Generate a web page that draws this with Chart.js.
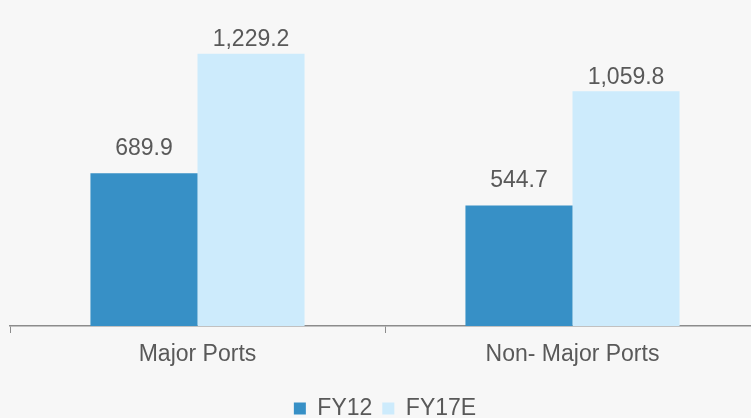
<!DOCTYPE html>
<html>
<head>
<meta charset="utf-8">
<script src="https://cdn.jsdelivr.net/npm/chart.js@4/dist/chart.umd.min.js"></script>
<style>
  html, body { margin: 0; padding: 0; background: #F7F7F7; overflow: hidden; width: 751px; height: 418px; }
  #wrap { width: 770px; height: 430px; position: relative; }
</style>
</head>
<body>
<div id="wrap"><canvas id="c"></canvas></div>
<script>
const categories = ['Major Ports', 'Non- Major Ports'];
const seriesNames = ['FY12', 'FY17E'];
const fy12 = [689.9, 544.7];
const fy17e = [1229.2, 1059.8];

const textColor = '#595959';
const fontFamily = "'Liberation Sans', Arial, sans-serif";

const valueLabels = {
  id: 'valueLabels',
  afterDatasetsDraw(chart) {
    const ctx = chart.ctx;
    const offsets = [25, 14];
    ctx.save();
    ctx.font = '23px ' + fontFamily;
    ctx.fillStyle = textColor;
    ctx.textAlign = 'center';
    ctx.textBaseline = 'middle';
    chart.data.datasets.forEach((ds, i) => {
      const meta = chart.getDatasetMeta(i);
      meta.data.forEach((bar, j) => {
        const v = ds.data[j];
        const s = v.toLocaleString('en-US', { minimumFractionDigits: 1, maximumFractionDigits: 1 });
        ctx.fillText(s, bar.x, bar.y - offsets[i]);
      });
    });
    ctx.restore();
  }
};

new Chart(document.getElementById('c'), {
  type: 'bar',
  data: {
    labels: categories,
    datasets: [
      { label: seriesNames[0], data: fy12, backgroundColor: '#3790C6', borderWidth: 0 },
      { label: seriesNames[1], data: fy17e, backgroundColor: '#CDEBFC', borderWidth: 0 }
    ]
  },
  options: {
    responsive: true,
    maintainAspectRatio: false,
    animation: false,
    datasets: { bar: { categoryPercentage: 0.571, barPercentage: 1.0 } },
    layout: { padding: { left: 10, right: 10, top: 16, bottom: 0 } },
    plugins: {
      legend: {
        position: 'bottom',
        labels: {
          boxWidth: 12, boxHeight: 12, padding: 10,
          color: textColor,
          font: { family: fontFamily, size: 23 }
        }
      },
      tooltip: { enabled: false }
    },
    scales: {
      x: {
        grid: { display: true, drawOnChartArea: false, drawTicks: true, tickLength: 7, color: '#8C8C8C', lineWidth: 1 },
        border: { display: true, color: '#8C8C8C', width: 1.5 },
        ticks: { color: textColor, font: { family: fontFamily, size: 23 }, padding: 8 },
        afterFit(scale) { scale.height = 61; }
      },
      y: {
        display: false,
        min: 0,
        max: 1400
      }
    }
  },
  plugins: [valueLabels]
});
</script>
</body>
</html>
